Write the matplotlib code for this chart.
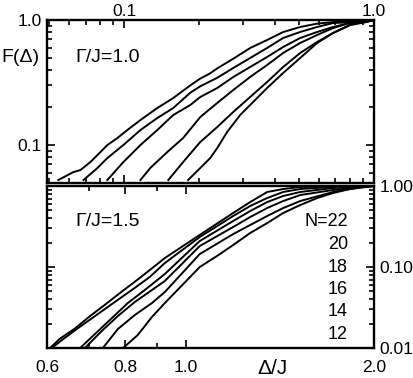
import matplotlib
matplotlib.use("Agg")
import matplotlib.pyplot as plt
from matplotlib.ticker import NullFormatter, FixedLocator, LogLocator

plt.rcParams['font.family'] = ['Liberation Sans', 'DejaVu Sans']

# ---- data: Gamma/J = 1.0 (upper panel), six system sizes ----
top_x = [
    [0.0544, 0.0625, 0.0667, 0.0731, 0.0802, 0.0855, 0.0938, 0.1028, 0.116, 0.1355, 0.157, 0.1837, 0.2014, 0.2208, 0.2355, 0.273, 0.319, 0.373, 0.4325, 0.506, 0.5916, 0.6856, 0.855, 1.0],
    [0.0686, 0.078, 0.0855, 0.0991, 0.116, 0.1355, 0.157, 0.1837, 0.2014, 0.2355, 0.273, 0.319, 0.373, 0.4325, 0.506, 0.5916, 0.6856, 0.855, 1.0],
    [0.0855, 0.0991, 0.116, 0.1355, 0.157, 0.1837, 0.2014, 0.2355, 0.273, 0.319, 0.373, 0.4325, 0.506, 0.5916, 0.6856, 0.8017, 0.904, 1.0],
    [0.116, 0.127, 0.1486, 0.172, 0.2014, 0.2355, 0.273, 0.319, 0.373, 0.4325, 0.506, 0.5916, 0.6856, 0.8017, 0.904, 1.0],
    [0.15, 0.172, 0.2014, 0.2355, 0.273, 0.319, 0.373, 0.4325, 0.506, 0.5916, 0.6856, 0.8017, 0.904, 1.0],
    [0.180, 0.2014, 0.2208, 0.2355, 0.258, 0.291, 0.319, 0.373, 0.4325, 0.506, 0.5916, 0.6856, 0.8017, 0.9376, 1.0],
]
top_y = [
    [0.0525, 0.0608, 0.0631, 0.0731, 0.0879, 0.1, 0.1138, 0.1318, 0.1585, 0.1977, 0.2377, 0.30, 0.34, 0.375, 0.41, 0.49, 0.597, 0.6918, 0.801, 0.879, 0.935, 0.962, 0.98, 1.0],
    [0.0525, 0.0655, 0.0787, 0.1, 0.1318, 0.1644, 0.1977, 0.262, 0.295, 0.345, 0.413, 0.4966, 0.597, 0.7178, 0.8017, 0.879, 0.946, 0.964, 1.0],
    [0.0525, 0.0731, 0.1, 0.1318, 0.1738, 0.2089, 0.2421, 0.2858, 0.35, 0.4207, 0.5058, 0.608, 0.7178, 0.8017, 0.879, 0.9462, 0.9638, 1.0],
    [0.0525, 0.0655, 0.0879, 0.1138, 0.1675, 0.2168, 0.2754, 0.35, 0.4365, 0.5445, 0.6546, 0.7586, 0.863, 0.9462, 0.9638, 1.0],
    [0.0525, 0.0731, 0.1057, 0.1393, 0.1837, 0.2421, 0.319, 0.4207, 0.5445, 0.6668, 0.787, 0.912, 0.9638, 1.0],
    [0.0525, 0.0655, 0.0787, 0.0946, 0.127, 0.1738, 0.2089, 0.2858, 0.3767, 0.4966, 0.6546, 0.787, 0.912, 0.9638, 1.0],
]

# ---- data: Gamma/J = 1.5 (lower panel) ----
bot_x = [
    [0.607, 0.629, 0.665, 0.703, 0.742, 0.785, 0.844, 0.926, 1.053, 1.191, 1.268, 1.350, 1.432, 1.525, 1.703, 2.0],
    [0.611, 0.634, 0.673, 0.716, 0.762, 0.820, 0.876, 0.926, 1.053, 1.191, 1.268, 1.350, 1.432, 1.525, 1.703, 2.0],
    [0.678, 0.716, 0.762, 0.808, 0.860, 0.926, 1.053, 1.191, 1.268, 1.350, 1.432, 1.525, 1.721, 2.0],
    [0.690, 0.734, 0.779, 0.829, 0.926, 1.053, 1.191, 1.268, 1.350, 1.432, 1.525, 1.721, 2.0],
    [0.737, 0.779, 0.829, 0.883, 0.926, 1.053, 1.191, 1.268, 1.350, 1.432, 1.525, 1.721, 1.831, 2.0],
    [0.794, 0.838, 0.883, 0.926, 1.053, 1.122, 1.191, 1.268, 1.350, 1.432, 1.525, 1.623, 1.721, 1.831, 1.914, 2.0],
]
bot_y = [
    [0.010, 0.0130, 0.0174, 0.0248, 0.034, 0.0478, 0.0731, 0.129, 0.249, 0.4645, 0.634, 0.844, 0.918, 0.972, 0.986, 1.0],
    [0.010, 0.01256, 0.01766, 0.0248, 0.0349, 0.052, 0.0753, 0.112, 0.2346, 0.4264, 0.5667, 0.711, 0.844, 0.918, 0.972, 1.0],
    [0.010, 0.0149, 0.02346, 0.0359, 0.052, 0.082, 0.2094, 0.370, 0.491, 0.634, 0.753, 0.844, 0.945, 1.0],
    [0.010, 0.0162, 0.02484, 0.037, 0.0672, 0.1816, 0.312, 0.414, 0.535, 0.653, 0.774, 0.893, 1.0],
    [0.010, 0.01717, 0.02554, 0.0359, 0.0491, 0.1446, 0.255, 0.330, 0.4264, 0.535, 0.653, 0.844, 0.918, 1.0],
    [0.010, 0.01446, 0.02415, 0.0359, 0.1, 0.1367, 0.187, 0.263, 0.349, 0.4645, 0.583, 0.711, 0.820, 0.918, 0.972, 1.0],
]

sizes = ["N=22", "20", "18", "16", "14", "12"]

W, H = 414, 378
fig = plt.figure(figsize=(W / 100, H / 100), dpi=100)
ax1 = fig.add_axes([47 / W, 1 - 183 / H, 327 / W, 163 / H])
ax2 = fig.add_axes([47 / W, 1 - 348 / H, 327 / W, 162 / H])

for xs, ys in zip(top_x, top_y):
    ax1.plot(xs, ys, color="black", lw=1.4)
for xs, ys in zip(bot_x, bot_y):
    ax2.plot(xs, ys, color="black", lw=1.4)

for ax in (ax1, ax2):
    ax.set_xscale("log")
    ax.set_yscale("log")
    for s in ax.spines.values():
        s.set_linewidth(1.7)
    ax.tick_params(which="both", direction="in", top=True, bottom=True,
                   left=True, right=True, width=1.2, labelsize=12.5)
    ax.tick_params(which="major", length=6)
    ax.tick_params(which="minor", length=3.5)

# upper panel
ax1.set_xlim(0.049, 1.0)
ax1.set_ylim(0.0497, 1.0)
ax1.set_xticks([0.1, 1.0])
ax1.set_xticklabels(["0.1", "1.0"])
ax1.xaxis.set_minor_locator(LogLocator(subs=range(2, 10)))
ax1.xaxis.set_minor_formatter(NullFormatter())
ax1.set_yticks([0.1, 1.0])
ax1.set_yticklabels(["0.1", "1.0"])
ax1.yaxis.set_minor_formatter(NullFormatter())
ax1.tick_params(axis="x", labeltop=True, labelbottom=False, pad=1)
ax1.tick_params(axis="y", pad=4)
ax1.text((75 - 47) / 327, 1 - (57 - 20) / 163, "Γ/J=1.0", transform=ax1.transAxes,
         fontsize=14, ha="left", va="center")

# lower panel
ax2.set_xlim(0.6, 2.0)
ax2.set_ylim(0.01, 1.0)
ax2.set_xticks([0.6, 0.8, 1.0, 2.0])
ax2.set_xticklabels(["0.6", "0.8", "1.0", "2.0"])
ax2.xaxis.set_minor_locator(FixedLocator([0.7, 0.9]))
ax2.xaxis.set_minor_formatter(NullFormatter())
ax2.set_yticks([0.01, 0.1, 1.0])
ax2.set_yticklabels(["0.01", "0.10", "1.00"])
ax2.yaxis.set_minor_formatter(NullFormatter())
ax2.tick_params(axis="y", labelleft=False, labelright=True, pad=4)
ax2.tick_params(axis="x", pad=9)
ax2.text((75 - 47) / 327, 1 - (222 - 186) / 162, "Γ/J=1.5", transform=ax2.transAxes,
         fontsize=14, ha="left", va="center")
for i, lab in enumerate(sizes):
    yy = 222 + i * 22.5
    ax2.text((348 - 47) / 327, 1 - (yy - 186) / 162, lab, transform=ax2.transAxes,
             fontsize=13, ha="right", va="center")

fig.text(1 / W, 1 - 58 / H, "F(Δ)", fontsize=14, ha="left", va="center")
fig.text(273 / W, 1 - 369 / H, "Δ/J", fontsize=15, ha="center", va="center")

fig.savefig("out.png", dpi=100)
